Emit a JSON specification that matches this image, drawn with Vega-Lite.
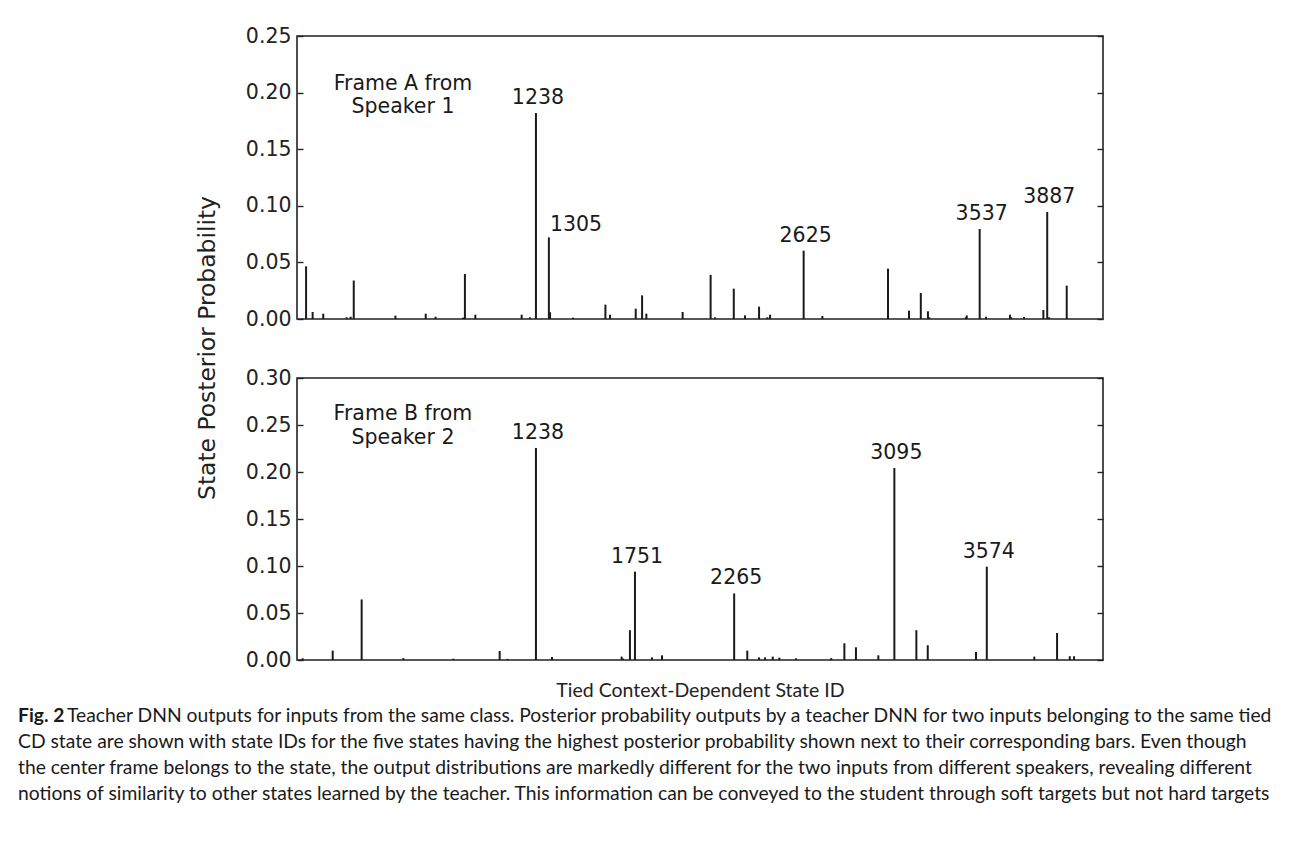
{
  "$schema": "https://vega.github.io/schema/vega-lite/v6.json",
  "background": "white",
  "padding": {"left": 18, "top": 25, "right": 5, "bottom": 5},
  "bounds": "flush",
  "spacing": 59,
  "config": {
    "font": "DejaVu Sans",
    "view": {"stroke": "#222222", "strokeWidth": 1.6},
    "axis": {"grid": false, "domain": false, "tickColor": "#222222", "tickWidth": 1.4, "labelColor": "#222222", "titleColor": "#222222", "labelFont": "DejaVu Sans", "titleFont": "DejaVu Sans", "titleFontWeight": "normal"}
  },
  "datasets": {
    "a": [
      {"id": 47, "p": 0.0465, "label": ""},
      {"id": 81, "p": 0.0062, "label": ""},
      {"id": 136, "p": 0.0047, "label": ""},
      {"id": 257, "p": 0.0015, "label": ""},
      {"id": 278, "p": 0.002, "label": ""},
      {"id": 294, "p": 0.034, "label": ""},
      {"id": 510, "p": 0.003, "label": ""},
      {"id": 667, "p": 0.0047, "label": ""},
      {"id": 718, "p": 0.002, "label": ""},
      {"id": 860, "p": 0.0012, "label": ""},
      {"id": 870, "p": 0.0398, "label": ""},
      {"id": 924, "p": 0.0038, "label": ""},
      {"id": 1164, "p": 0.0038, "label": ""},
      {"id": 1207, "p": 0.0015, "label": ""},
      {"id": 1238, "p": 0.182, "label": "1238"},
      {"id": 1305, "p": 0.0721, "label": "1305"},
      {"id": 1311, "p": 0.006, "label": ""},
      {"id": 1430, "p": 0.0012, "label": ""},
      {"id": 1598, "p": 0.0127, "label": ""},
      {"id": 1622, "p": 0.0038, "label": ""},
      {"id": 1755, "p": 0.0091, "label": ""},
      {"id": 1788, "p": 0.0209, "label": ""},
      {"id": 1810, "p": 0.0047, "label": ""},
      {"id": 1998, "p": 0.0062, "label": ""},
      {"id": 2143, "p": 0.039, "label": ""},
      {"id": 2166, "p": 0.0015, "label": ""},
      {"id": 2263, "p": 0.0268, "label": ""},
      {"id": 2321, "p": 0.0032, "label": ""},
      {"id": 2394, "p": 0.0109, "label": ""},
      {"id": 2437, "p": 0.0015, "label": ""},
      {"id": 2451, "p": 0.0038, "label": ""},
      {"id": 2625, "p": 0.0604, "label": "2625"},
      {"id": 2722, "p": 0.0027, "label": ""},
      {"id": 3062, "p": 0.0445, "label": ""},
      {"id": 3171, "p": 0.0074, "label": ""},
      {"id": 3232, "p": 0.023, "label": ""},
      {"id": 3269, "p": 0.0068, "label": ""},
      {"id": 3276, "p": 0.0015, "label": ""},
      {"id": 3465, "p": 0.0015, "label": ""},
      {"id": 3470, "p": 0.0032, "label": ""},
      {"id": 3537, "p": 0.0795, "label": "3537"},
      {"id": 3570, "p": 0.002, "label": ""},
      {"id": 3694, "p": 0.0038, "label": ""},
      {"id": 3701, "p": 0.0015, "label": ""},
      {"id": 3767, "p": 0.0018, "label": ""},
      {"id": 3867, "p": 0.008, "label": ""},
      {"id": 3887, "p": 0.0945, "label": "3887"},
      {"id": 3897, "p": 0.0015, "label": ""},
      {"id": 3988, "p": 0.0294, "label": ""}
    ],
    "b": [
      {"id": 29, "p": 0.0018, "label": ""},
      {"id": 185, "p": 0.01, "label": ""},
      {"id": 335, "p": 0.0644, "label": ""},
      {"id": 551, "p": 0.002, "label": ""},
      {"id": 810, "p": 0.0014, "label": ""},
      {"id": 1050, "p": 0.0096, "label": ""},
      {"id": 1090, "p": 0.0012, "label": ""},
      {"id": 1238, "p": 0.2256, "label": "1238"},
      {"id": 1321, "p": 0.0032, "label": ""},
      {"id": 1682, "p": 0.0036, "label": ""},
      {"id": 1690, "p": 0.0015, "label": ""},
      {"id": 1725, "p": 0.0317, "label": ""},
      {"id": 1751, "p": 0.094, "label": "1751"},
      {"id": 1839, "p": 0.0028, "label": ""},
      {"id": 1891, "p": 0.005, "label": ""},
      {"id": 2265, "p": 0.0708, "label": "2265"},
      {"id": 2333, "p": 0.01, "label": ""},
      {"id": 2394, "p": 0.0028, "label": ""},
      {"id": 2425, "p": 0.0028, "label": ""},
      {"id": 2465, "p": 0.0036, "label": ""},
      {"id": 2499, "p": 0.0025, "label": ""},
      {"id": 2585, "p": 0.0018, "label": ""},
      {"id": 2768, "p": 0.002, "label": ""},
      {"id": 2836, "p": 0.0178, "label": ""},
      {"id": 2896, "p": 0.0135, "label": ""},
      {"id": 3012, "p": 0.005, "label": ""},
      {"id": 3095, "p": 0.2043, "label": "3095"},
      {"id": 3209, "p": 0.0317, "label": ""},
      {"id": 3268, "p": 0.0157, "label": ""},
      {"id": 3518, "p": 0.0085, "label": ""},
      {"id": 3574, "p": 0.0993, "label": "3574"},
      {"id": 3820, "p": 0.0036, "label": ""},
      {"id": 3938, "p": 0.0288, "label": ""},
      {"id": 4004, "p": 0.004, "label": ""},
      {"id": 4026, "p": 0.004, "label": ""}
    ],
    "caption": [
      {"line": 1, "lead": "Fig. 2", "body": "Teacher DNN outputs for inputs from the same class. Posterior probability outputs by a teacher DNN for two inputs belonging to the same tied"},
      {"line": 2, "lead": "", "body": "CD state are shown with state IDs for the five states having the highest posterior probability shown next to their corresponding bars. Even though"},
      {"line": 3, "lead": "", "body": "the center frame belongs to the state, the output distributions are markedly different for the two inputs from different speakers, revealing different"},
      {"line": 4, "lead": "", "body": "notions of similarity to other states learned by the teacher. This information can be conveyed to the student through soft targets but not hard targets"}
    ]
  },
  "vconcat": [
    {
      "width": 806,
      "height": 283,
      "data": {"name": "a"},
      "layer": [
        {
          "mark": {"type": "rule", "strokeWidth": 2, "color": "#1a1a1a"},
          "encoding": {
            "x": {"field": "id", "type": "quantitative", "scale": {"domain": [0, 4176], "nice": false, "zero": false}, "axis": null},
            "y": {"field": "p", "type": "quantitative", "scale": {"domain": [0, 0.25], "nice": false},
              "axis": {"orient": "left", "values": [0, 0.05, 0.1, 0.15, 0.2, 0.25], "format": ".2f", "tickSize": -6, "labelPadding": 12, "labelFontSize": 20.5,
                "title": "State Posterior Probability", "titleFontSize": 23.4, "titleX": -90, "titleY": 311.5, "titleAngle": 270, "titleAlign": "center", "titleBaseline": "middle"}},
            "y2": {"datum": 0}
          }
        },
        {
          "mark": {"type": "rule", "opacity": 0},
          "encoding": {
            "y": {"field": "p", "type": "quantitative", "axis": {"orient": "right", "values": [0, 0.05, 0.1, 0.15, 0.2, 0.25], "labels": false, "tickSize": -6, "title": null}}
          }
        },
        {
          "transform": [{"filter": "datum.label != '' && datum.id != 1305"}],
          "mark": {"type": "text", "fontSize": 20.5, "align": "center", "baseline": "alphabetic", "dy": -9, "dx": 2, "color": "#1a1a1a"},
          "encoding": {
            "x": {"field": "id", "type": "quantitative", "axis": null},
            "y": {"field": "p", "type": "quantitative", "axis": null},
            "text": {"field": "label"}
          }
        },
        {
          "transform": [{"filter": "datum.id == 1305"}],
          "mark": {"type": "text", "fontSize": 20.5, "align": "left", "baseline": "alphabetic", "dy": -6, "dx": 1, "color": "#1a1a1a"},
          "encoding": {
            "x": {"field": "id", "type": "quantitative", "axis": null},
            "y": {"field": "p", "type": "quantitative", "axis": null},
            "text": {"field": "label"}
          }
        },
        {
          "data": {"values": [{"note": "Frame A"}]},
          "mark": {"type": "text", "fontSize": 20.5, "align": "center", "baseline": "alphabetic", "lineHeight": 23.3, "color": "#1a1a1a", "text": ["Frame A from", "Speaker 1"]},
          "encoding": {
            "x": {"datum": 549, "type": "quantitative", "axis": null},
            "y": {"datum": 0.2027, "type": "quantitative", "axis": null}
          }
        }
      ],
      "resolve": {"axis": {"y": "independent"}}
    },
    {
      "width": 806,
      "height": 282,
      "data": {"name": "b"},
      "layer": [
        {
          "mark": {"type": "rule", "strokeWidth": 2, "color": "#1a1a1a"},
          "encoding": {
            "x": {"field": "id", "type": "quantitative", "scale": {"domain": [0, 4176], "nice": false, "zero": false},
              "axis": {"labels": false, "ticks": false, "domain": false, "title": "Tied Context-Dependent State ID", "titleFont": "Lato", "titleFontSize": 19.5, "titlePadding": 21}},
            "y": {"field": "p", "type": "quantitative", "scale": {"domain": [0, 0.3], "nice": false},
              "axis": {"orient": "left", "values": [0, 0.05, 0.1, 0.15, 0.2, 0.25, 0.3], "format": ".2f", "tickSize": -6, "labelPadding": 12, "labelFontSize": 20.5, "title": null}},
            "y2": {"datum": 0}
          }
        },
        {
          "mark": {"type": "rule", "opacity": 0},
          "encoding": {
            "y": {"field": "p", "type": "quantitative", "axis": {"orient": "right", "values": [0, 0.05, 0.1, 0.15, 0.2, 0.25, 0.3], "labels": false, "tickSize": -6, "title": null}}
          }
        },
        {
          "transform": [{"filter": "datum.label != ''"}],
          "mark": {"type": "text", "fontSize": 20.5, "align": "center", "baseline": "alphabetic", "dy": -9, "dx": 2, "color": "#1a1a1a"},
          "encoding": {
            "x": {"field": "id", "type": "quantitative"},
            "y": {"field": "p", "type": "quantitative", "axis": null},
            "text": {"field": "label"}
          }
        },
        {
          "data": {"values": [{"note": "Frame B"}]},
          "mark": {"type": "text", "fontSize": 20.5, "align": "center", "baseline": "alphabetic", "lineHeight": 23.3, "color": "#1a1a1a", "text": ["Frame B from", "Speaker 2"]},
          "encoding": {
            "x": {"datum": 549, "type": "quantitative"},
            "y": {"datum": 0.2548, "type": "quantitative", "axis": null}
          }
        }
      ],
      "resolve": {"axis": {"y": "independent"}}
    },
    {
      "width": 806,
      "height": 78,
      "view": {"stroke": null},
      "data": {"name": "caption"},
      "encoding": {
        "x": {"value": 0},
        "y": {"field": "line", "type": "quantitative", "axis": null, "scale": {"domain": [1, 4], "reverse": true, "nice": false, "zero": false}}
      },
      "layer": [
        {
          "transform": [{"filter": "datum.line == 1"}],
          "mark": {"type": "text", "align": "left", "baseline": "middle", "dx": -279, "dy": -3, "font": "Lato", "fontSize": 19.3, "fontWeight": "bold", "color": "#1a1a1a"},
          "encoding": {"text": {"field": "lead"}}
        },
        {
          "transform": [{"filter": "datum.line == 1"}],
          "mark": {"type": "text", "align": "left", "baseline": "middle", "dx": -230, "dy": -3, "font": "Lato", "fontSize": 19.3, "color": "#1a1a1a"},
          "encoding": {"text": {"field": "body"}}
        },
        {
          "transform": [{"filter": "datum.line > 1"}],
          "mark": {"type": "text", "align": "left", "baseline": "middle", "dx": -279, "dy": -3, "font": "Lato", "fontSize": 19.3, "color": "#1a1a1a"},
          "encoding": {"text": {"field": "body"}}
        }
      ]
    }
  ]
}
